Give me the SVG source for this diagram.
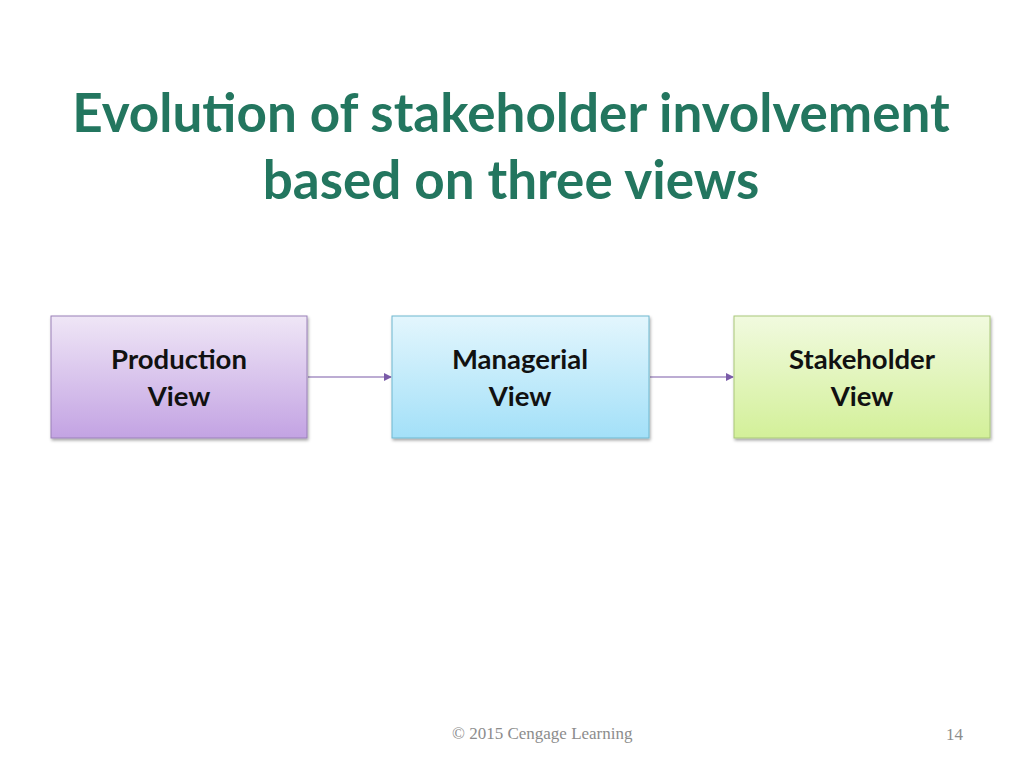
<svg xmlns="http://www.w3.org/2000/svg" width="1024" height="768" viewBox="0 0 1024 768">
<defs>
<linearGradient id="gP" x1="0" y1="0" x2="0" y2="1"><stop offset="0" stop-color="#EFE6F6"/><stop offset="1" stop-color="#C3A3E3"/></linearGradient>
<linearGradient id="gM" x1="0" y1="0" x2="0" y2="1"><stop offset="0" stop-color="#E3F6FD"/><stop offset="1" stop-color="#A3E0F8"/></linearGradient>
<linearGradient id="gS" x1="0" y1="0" x2="0" y2="1"><stop offset="0" stop-color="#F1FADF"/><stop offset="1" stop-color="#D3F099"/></linearGradient>
<filter id="sh" x="-10%" y="-10%" width="120%" height="130%"><feDropShadow dx="1" dy="2" stdDeviation="1.5" flood-color="#000" flood-opacity="0.35"/></filter>
<marker id="ar" markerWidth="8" markerHeight="8" refX="7" refY="4" orient="auto" markerUnits="userSpaceOnUse"><path d="M0,0 L8,4 L0,8 Z" fill="#7A5BA8"/></marker>
</defs>
<style>
.title{font-family:Lato,"Liberation Sans",sans-serif;font-weight:bold;font-size:53px;fill:#23765F;text-anchor:middle}
.lbl{font-family:Lato,"Liberation Sans",sans-serif;font-weight:bold;font-size:27.5px;fill:#111;text-anchor:middle}
.foot{font-family:"Liberation Serif",serif;font-size:17px;fill:#8C8C8C}
.conn{stroke:#7A5BA8;stroke-width:1.2;fill:none}
</style>
<rect width="1024" height="768" fill="#fff"/>
<text class="title" x="511" y="132">Evolution of stakeholder involvement</text>
<text class="title" x="511" y="199">based on three views</text>
<g id="connectors">
<line class="conn" x1="308" y1="377" x2="391" y2="377" marker-end="url(#ar)"/>
<line class="conn" x1="650" y1="377" x2="733" y2="377" marker-end="url(#ar)"/>
</g>
<g id="production">
<rect x="51" y="316" width="256" height="122" fill="url(#gP)" stroke="#9A80B8" stroke-width="1" filter="url(#sh)"/>
<text class="lbl" x="179" y="369">Production</text>
<text class="lbl" x="179" y="406">View</text>
</g>
<g id="managerial">
<rect x="392" y="316" width="257" height="122" fill="url(#gM)" stroke="#6FB8D0" stroke-width="1" filter="url(#sh)"/>
<text class="lbl" x="520" y="369">Managerial</text>
<text class="lbl" x="520" y="406">View</text>
</g>
<g id="stakeholder">
<rect x="734" y="316" width="256" height="122" fill="url(#gS)" stroke="#A9C77A" stroke-width="1" filter="url(#sh)"/>
<text class="lbl" x="862" y="369">Stakeholder</text>
<text class="lbl" x="862" y="406">View</text>
</g>
<text class="foot" x="452" y="739">© 2015 Cengage Learning</text>
<text class="foot" x="946" y="740">14</text>
</svg>
